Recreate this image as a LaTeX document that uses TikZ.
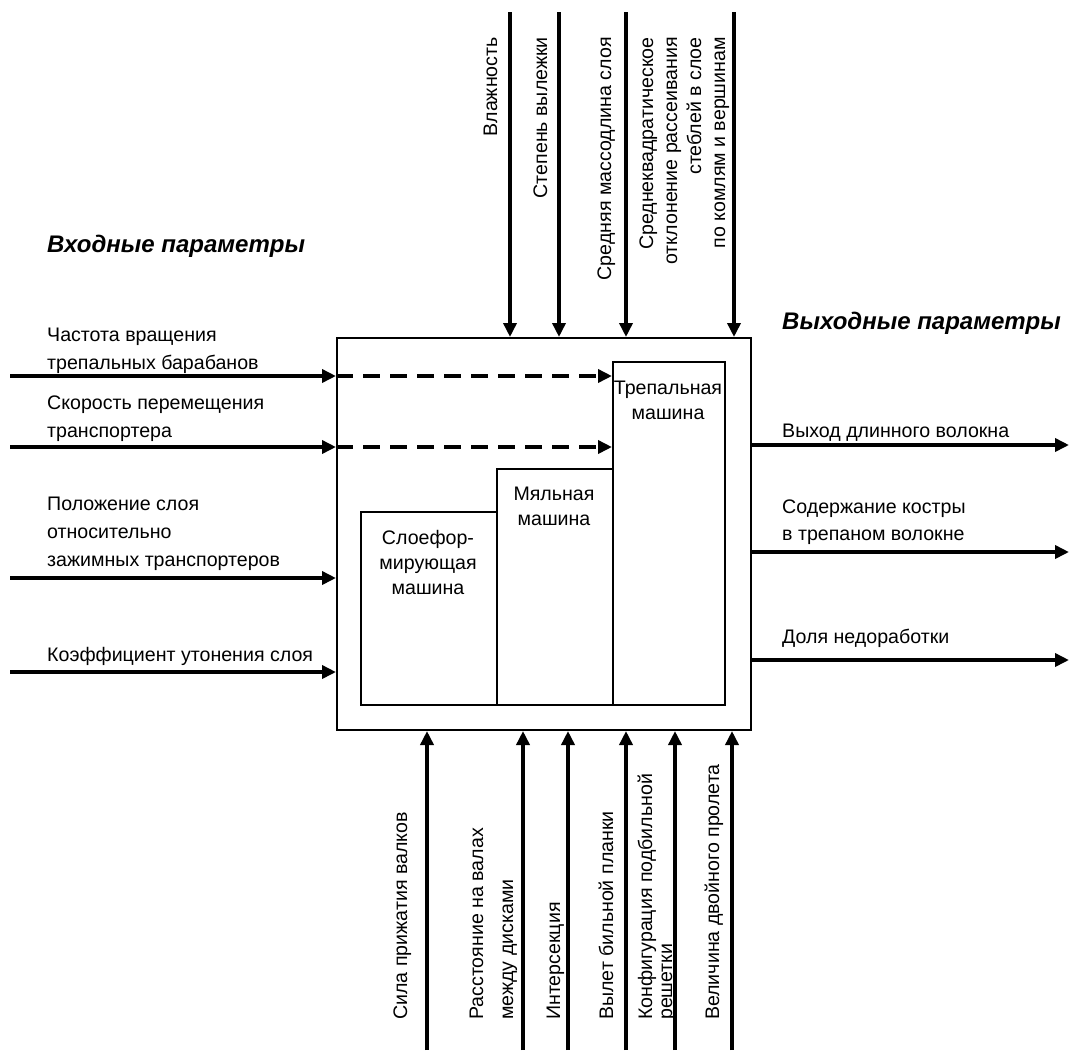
\documentclass[tikz,border=0pt]{standalone}
\usepackage{fontspec}
\setmainfont{Liberation Sans}
\usetikzlibrary{arrows.meta, positioning}

\begin{document}
\begin{tikzpicture}[x=1pt, y=-1pt,
    flow/.style={line width=3.5pt, -{Triangle[length=14pt, width=13pt]}},
    feed/.style={flow, dash pattern=on 17pt off 10pt},
    outerbox/.style={draw, line width=2pt, inner sep=0pt},
    machine/.style={draw, line width=2pt, inner sep=0pt},
    lbl/.style={font=\fontsize{19.6}{28}\selectfont, align=left, inner sep=0pt},
    boxtext/.style={font=\fontsize{19.6}{25}\selectfont, align=center, inner sep=0pt},
    uplbl/.style={font=\fontsize{19.6}{24}\selectfont, rotate=90, inner sep=0pt},
    headline/.style={font=\fontsize{24}{30}\selectfont\bfseries\itshape, inner sep=0pt}]
  \useasboundingbox (0,0) rectangle (1070,1050);

  % main block and machines
  \node[outerbox, minimum width=414pt, minimum height=392pt, anchor=north west] (main) at (336,337) {};
  \node[machine, minimum width=136pt, minimum height=193pt, anchor=south west] (former) at (360,706) {};
  \node[machine, minimum width=116pt, minimum height=236pt, anchor=south west] (breaker) at (496,706) {};
  \node[machine, minimum width=112pt, minimum height=343pt, anchor=south west] (scutcher) at (612,706) {};
  \node[boxtext, anchor=base] (formertxt) at (428,594) {Слоефор-\\мирующая\\машина};
  \node[boxtext, anchor=base] (breakertxt) at (554,525) {Мяльная\\машина};
  \node[boxtext, anchor=base] (scutchertxt) at (668,419) {Трепальная\\машина};

  % titles
  \node[headline, anchor=base west] (intitle) at (47,252) {Входные параметры};
  \node[headline, anchor=base west] (outtitle) at (782,329) {Выходные параметры};

  % inputs
  \coordinate (in1) at (10,376);
  \coordinate (in2) at (10,447);
  \coordinate (in3) at (10,578);
  \coordinate (in4) at (10,672);
  \foreach \k in {1,...,4}
    \draw[flow] (in\k) -- (in\k -| main.west);
  \draw[feed] (in1 -| main.west) -- (in1 -| scutcher.west);
  \draw[feed] (in2 -| main.west) -- (in2 -| scutcher.west);
  \node[lbl, anchor=base west] (inlbl1) at (47,369) {Частота вращения\\трепальных барабанов};
  \node[lbl, anchor=base west] (inlbl2) at (47,437) {Скорость перемещения\\транспортера};
  \node[lbl, anchor=base west] (inlbl3) at (47,566) {Положение слоя\\относительно\\зажимных транспортеров};
  \node[lbl, anchor=base west] (inlbl4) at (47,661) {Коэффициент утонения слоя};

  % outputs
  \coordinate (out1) at (1069,445);
  \coordinate (out2) at (1069,552);
  \coordinate (out3) at (1069,660);
  \foreach \k in {1,2,3}
    \draw[flow] (out\k -| main.east) -- (out\k);
  \node[lbl, anchor=base west] (outlbl1) at (782,437) {Выход длинного волокна};
  \node[lbl, anchor=base west, font=\fontsize{19.6}{27}\selectfont] (outlbl2) at (782,540) {Содержание костры\\в трепаном волокне};
  \node[lbl, anchor=base west] (outlbl3) at (782,643) {Доля недоработки};

  % controls (top)
  \foreach \k/\x in {1/510, 2/559, 3/626, 4/734} {
    \coordinate (ctl\k) at (\x,12);
    \draw[flow] (ctl\k) -- (ctl\k |- main.north);
  }
  \node[uplbl, anchor=base east] (ctllbl1) at (497,37) {Влажность};
  \node[uplbl, anchor=base east] (ctllbl2) at (547,37) {Степень вылежки};
  \node[uplbl, anchor=base east] (ctllbl3) at (611,37) {Средняя массодлина слоя};
  \node[uplbl, anchor=base east, align=right] (ctllbl4) at (725,37)
    {Среднеквадратическое\\отклонение рассеивания\\стеблей в слое\\по комлям и вершинам};

  % mechanisms (bottom)
  \foreach \k/\x in {1/427, 2/523, 3/568, 4/626, 5/675, 6/732} {
    \coordinate (mech\k) at (\x,1050);
    \draw[flow] (mech\k) -- (mech\k |- main.south);
  }
  \node[uplbl, anchor=base west] (mechlbl1) at (407,1020) {Сила прижатия валков};
  \node[uplbl, anchor=base west, align=left, font=\fontsize{19.6}{30}\selectfont] (mechlbl2) at (513,1020)
    {Расстояние на валах\\между дисками};
  \node[uplbl, anchor=base west] (mechlbl3) at (560,1020) {Интерсекция};
  \node[uplbl, anchor=base west] (mechlbl4) at (613,1020) {Вылет бильной планки};
  \node[uplbl, anchor=base west, align=left, font=\fontsize{19.6}{20}\selectfont] (mechlbl5) at (672,1020)
    {Конфигурация подбильной\\решетки};
  \node[uplbl, anchor=base west] (mechlbl6) at (719,1020) {Величина двойного пролета};
\end{tikzpicture}
\end{document}
